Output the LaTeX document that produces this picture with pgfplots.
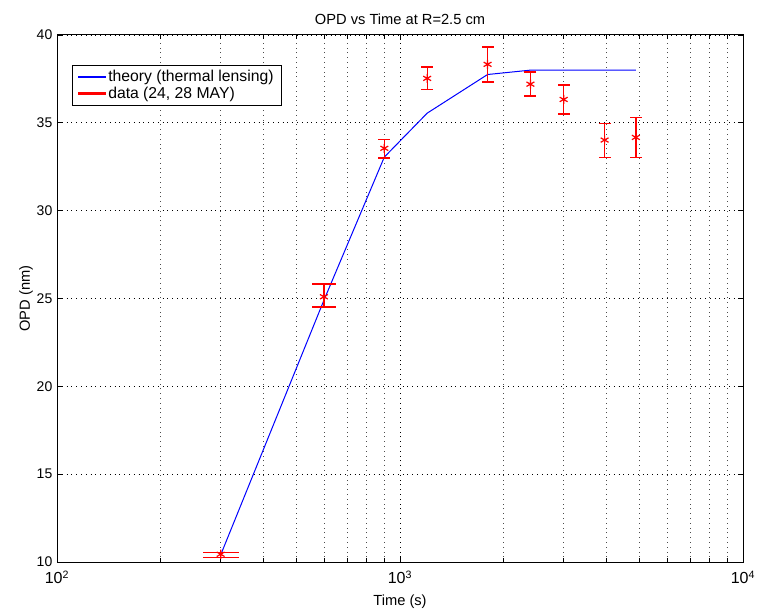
\documentclass[border=0pt]{standalone}
\usepackage{fontspec}
\setmainfont{Liberation Sans}
\usepackage{pgfplots}
\pgfplotsset{compat=1.18}
\usepackage{pgfplotstable}
\definecolor{mred}{rgb}{1,0,0}
\definecolor{mblue}{rgb}{0,0,1}
\pgfdeclareplotmark{capbar}{%
  \pgfpathrectangle{\pgfpoint{-\pgfplotmarksize}{-0.6pt}}{\pgfpoint{2\pgfplotmarksize}{1.2pt}}%
  \pgfusepathqfill}

\pgfplotstableread{
x y ep em
300 10.44 0.11 0.19
}\dataA
\pgfplotstableread{
x y ep em
600 25.1 0.72 0.60
}\dataB
\pgfplotstableread{
x y ep em
900 33.55 0.51 0.54
1200 37.53 0.64 0.63
1800 38.33 1.00 1.01
2400 37.20 0.70 0.68
3000 36.33 0.82 0.83
3950 34.02 0.95 0.99
4870 34.17 1.14 1.14
}\dataC
\pgfplotstableread{
x y
300 10.40
600 24.90
900 33.05
1200 35.55
1800 37.75
2400 38.00
3000 38.00
3950 38.00
4870 38.00
}\theory

\begin{document}
\begin{tikzpicture}
\begin{axis}[
  scale only axis,
  width=514.5pt, height=395.25pt,
  xmode=log, xmin=100, xmax=10000,
  ymin=10, ymax=40,
  ytick={10,15,20,25,30,35,40},
  xtick={100,1000,10000},
  xticklabels={10\textsuperscript{2},10\textsuperscript{3},10\textsuperscript{4}},
  font=\fontsize{11}{13}\selectfont,
  yticklabel style={font=\fontsize{10.5}{12}\selectfont},
  xticklabel style={font=\fontsize{12}{14}\selectfont, yshift=-3pt},
  /pgf/number format/assume math mode=true,
  tick align=inside,
  major tick length=4pt, minor tick length=3pt,
  tick style={black, line width=0.5pt},
  axis line style={black, line width=0.75pt},
  xmajorgrids, xminorgrids, ymajorgrids,
  major grid style={black, line width=0.5pt, dash pattern=on 0.6pt off 3pt},
  minor grid style={black!70, line width=0.5pt, dash pattern=on 0.6pt off 3pt},
  title={OPD vs Time at R=2.5 cm},
  title style={yshift=-2pt},
  xlabel={Time (s)},
  ylabel={OPD (nm)},
  xlabel style={yshift=-1pt},
  ylabel style={yshift=-4pt},
  legend style={at={(axis description cs:0.022,0.943)}, anchor=north west, draw=black, line width=0.75pt,
    font=\fontsize{11.8}{13}\selectfont, inner xsep=4pt, inner ysep=1.5pt, row sep=-1.5pt},
  legend cell align=left,
  legend image code/.code={\fill[#1] (0pt,-0.5pt) rectangle (20pt,0.5pt);},
]
\addplot[mblue, line width=0.75pt, mark=none, forget plot] table[x=x,y=y]{\theory};
% vertical error bars
\addplot[draw=none, mark=none, forget plot,
  error bars/.cd, y dir=both, y explicit, error mark=none,
  error bar style={draw=mred, line width=1pt, solid},
  ] table[x=x,y=y,y error plus=ep,y error minus=em]{\dataA};
\addplot[draw=none, mark=none, forget plot,
  error bars/.cd, y dir=both, y explicit, error mark=none,
  error bar style={draw=mred, line width=1pt, solid},
  ] table[x=x,y=y,y error plus=ep,y error minus=em]{\dataB};
\addplot[draw=none, mark=none, forget plot,
  error bars/.cd, y dir=both, y explicit, error mark=none,
  error bar style={draw=mred, line width=1pt, solid},
  ] table[x=x,y=y,y error plus=ep,y error minus=em]{\dataC};
% caps
\addplot[only marks, mark=capbar, mark size=13.5pt, forget plot, mark options={fill=mred, draw=none}]
  table[x=x, y expr=\thisrow{y}+\thisrow{ep}]{\dataA};
\addplot[only marks, mark=capbar, mark size=13.5pt, forget plot, mark options={fill=mred, draw=none}]
  table[x=x, y expr=\thisrow{y}-\thisrow{em}]{\dataA};
\addplot[only marks, mark=capbar, mark size=9pt, forget plot, mark options={fill=mred, draw=none}]
  table[x=x, y expr=\thisrow{y}+\thisrow{ep}]{\dataB};
\addplot[only marks, mark=capbar, mark size=9pt, forget plot, mark options={fill=mred, draw=none}]
  table[x=x, y expr=\thisrow{y}-\thisrow{em}]{\dataB};
\addplot[only marks, mark=capbar, mark size=4.5pt, forget plot, mark options={fill=mred, draw=none}]
  table[x=x, y expr=\thisrow{y}+\thisrow{ep}]{\dataC};
\addplot[only marks, mark=capbar, mark size=4.5pt, forget plot, mark options={fill=mred, draw=none}]
  table[x=x, y expr=\thisrow{y}-\thisrow{em}]{\dataC};
% markers
\addplot[only marks, mark=asterisk, mark size=3.4pt, forget plot,
  mark options={draw=mred, line width=0.9pt}] table[x=x,y=y]{\dataA};
\addplot[only marks, mark=asterisk, mark size=3.4pt, forget plot,
  mark options={draw=mred, line width=0.9pt}] table[x=x,y=y]{\dataB};
\addplot[only marks, mark=asterisk, mark size=3.4pt, forget plot,
  mark options={draw=mred, line width=0.9pt}] table[x=x,y=y]{\dataC};
\addlegendimage{mblue}
\addlegendentry{theory (thermal lensing)}
\addlegendimage{mred}
\addlegendentry{data (24, 28 MAY)}
\end{axis}
\pgfresetboundingbox
\path ([xshift=-42.75pt,yshift=-35.25pt]current axis.south west) rectangle ([xshift=12pt,yshift=26.25pt]current axis.north east);
\end{tikzpicture}
\end{document}
